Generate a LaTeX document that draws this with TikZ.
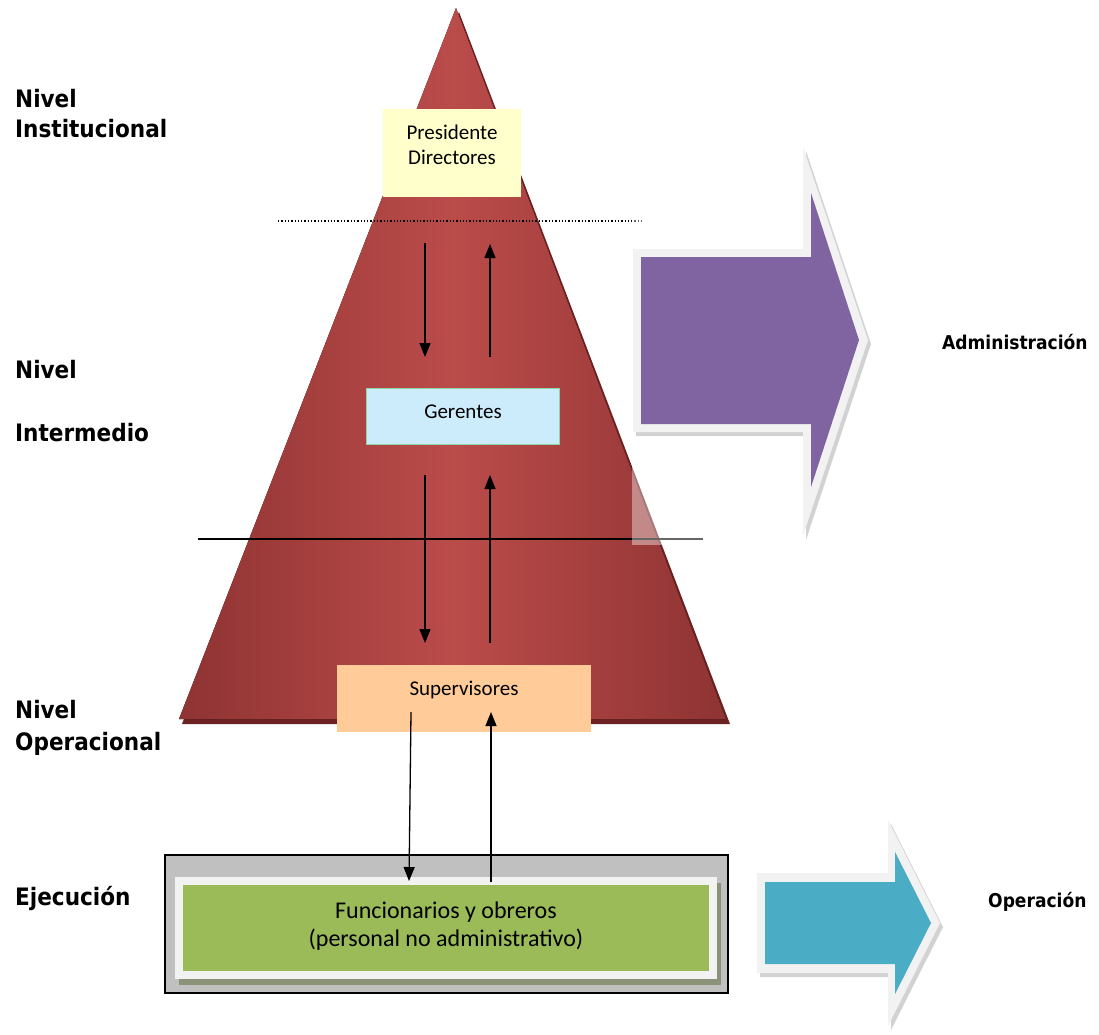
\documentclass[tikz,border=0pt]{standalone}
\usepackage{fontspec}
\setmainfont{Carlito}
\newfontfamily\lblfont{DejaVu Sans Condensed}
\usetikzlibrary{arrows.meta}

\definecolor{pyrdark}{RGB}{143,51,51}
\definecolor{pyrlight}{RGB}{186,76,74}
\definecolor{pyrshadow}{RGB}{108,34,34}
\definecolor{presfill}{RGB}{255,255,204}
\definecolor{gerfill}{RGB}{204,236,252}
\definecolor{gerline}{RGB}{140,215,165}
\definecolor{supfill}{RGB}{255,204,153}
\definecolor{outergray}{RGB}{192,192,192}
\definecolor{framewhite}{RGB}{242,242,242}
\definecolor{greenfill}{RGB}{155,187,89}
\definecolor{greenshadow}{RGB}{138,146,120}
\definecolor{purplefill}{RGB}{128,100,162}
\definecolor{tealfill}{RGB}{75,172,198}

\begin{document}
\begin{tikzpicture}[x=1pt,y=-1pt,
  flow/.style={line width=1.3pt,-{Triangle[length=14pt,width=11pt]}},
  lvl/.style={anchor=base west,inner sep=0pt,font=\lblfont\bfseries\fontsize{24}{28}\selectfont},
  sidelbl/.style={anchor=base west,inner sep=0pt,font=\lblfont\bfseries\fontsize{19}{22}\selectfont},
  boxtxt/.style={anchor=base,inner sep=0pt,font=\fontsize{21}{25}\selectfont},
  bigtxt/.style={anchor=base,inner sep=0pt,font=\fontsize{24}{28}\selectfont},
  levelbox/.style={inner sep=0pt,outer sep=0pt},
  arrowshadow/.style={fill=gray,opacity=0.35}
  ]
\useasboundingbox (0,0) rectangle (1099,1034);
\fill[white] (0,0) rectangle (1099,1034);

% pyramid with its dark base edge
\fill[pyrshadow] (459,12) -- (182,724) -- (730,724) -- cycle;
\fill[left color=pyrdark, right color=pyrdark, middle color=pyrlight]
  (456,8) -- (179,719) -- (726,719) -- cycle;

% level separators
\draw[dotted, line width=1.3pt] (278,221) -- (642,221);
\draw[line width=1.5pt] (198,539) -- (703,539);

% translucent backdrop of the large arrow
\fill[white, opacity=0.4] (632,148) rectangle (872,545);

% administration arrow
\fill[arrowshadow] (636,253) -- (806,253) -- (806,151) -- (871,344) -- (806,540) -- (806,436) -- (636,436) -- cycle;
\fill[framewhite] (633,249) -- (803,249) -- (803,147) -- (868,340) -- (803,536) -- (803,432) -- (633,432) -- cycle;
\fill[purplefill] (641,257) -- (811,257) -- (811,193) -- (859,340) -- (811,487) -- (811,424) -- (641,424) -- cycle;

% operation arrow
\fill[arrowshadow] (760,877) -- (891,877) -- (891,824) -- (943,927) -- (891,1030) -- (891,977) -- (760,977) -- cycle;
\fill[framewhite] (757,873) -- (888,873) -- (888,820) -- (940,923) -- (888,1026) -- (888,973) -- (757,973) -- cycle;
\fill[tealfill] (765,882) -- (895,882) -- (895,852) -- (931,923) -- (895,994) -- (895,964) -- (765,964) -- cycle;

% hierarchy boxes
\node[levelbox, fill=presfill, minimum width=138pt, minimum height=88pt] (pres) at (452,153) {};
\node[boxtxt] (presA) at (452,139) {Presidente};
\node[boxtxt] (presB) at (452,164) {Directores};

\node[levelbox, fill=gerfill, draw=gerline, line width=1pt, minimum width=193pt, minimum height=56pt] (ger) at (462.5,416) {};
\node[boxtxt] (gerT) at (463,418) {Gerentes};

\node[levelbox, fill=supfill, minimum width=254pt, minimum height=67pt] (sup) at (464,698.5) {};
\node[boxtxt] (supT) at (464,695) {Supervisores};

% execution block
\node[levelbox, fill=outergray, draw=black, line width=1.5pt, minimum width=563pt, minimum height=138pt] (exec) at (446.5,924) {};
\fill[greenshadow] (179,883) rectangle (721,985);
\fill[framewhite] (175,877) rectangle (717,979);
\node[levelbox, fill=greenfill, minimum width=526pt, minimum height=86pt] (func) at (446,928) {};
\node[bigtxt] (funcA) at (446,918) {Funcionarios y obreros};
\node[bigtxt] (funcB) at (446,946) {(personal no administrativo)};

% arrow end points between the levels
\coordinate (a1) at (425,243); \coordinate (b1) at (425,357);
\coordinate (c1) at (490,357); \coordinate (e1) at (490,244);
\coordinate (a2) at (425,475); \coordinate (b2) at (425,643);
\coordinate (c2) at (490,643); \coordinate (e2) at (490,475);
\coordinate (a3) at (411,712); \coordinate (b3) at (409,881);
\coordinate (c3) at (491,882); \coordinate (e3) at (491,712);

\draw[flow] (a1) -- (b1);
\draw[flow] (c1) -- (e1);
\draw[flow] (a2) -- (b2);
\draw[flow] (c2) -- (e2);
\draw[flow] (a3) -- (b3);
\draw[flow] (c3) -- (e3);

% level labels
\node[lvl] (n1a) at (15,107) {Nivel};
\node[lvl] (n1b) at (15,137) {Institucional};
\node[lvl] (n2a) at (15,378) {Nivel};
\node[lvl] (n2b) at (15,441) {Intermedio};
\node[lvl] (n3a) at (15,718) {Nivel};
\node[lvl] (n3b) at (15,750) {Operacional};
\node[lvl] (n4) at (15,905) {Ejecución};
\node[sidelbl] (adm) at (942,349) {Administración};
\node[sidelbl] (ope) at (988,907) {Operación};
\end{tikzpicture}
\end{document}
